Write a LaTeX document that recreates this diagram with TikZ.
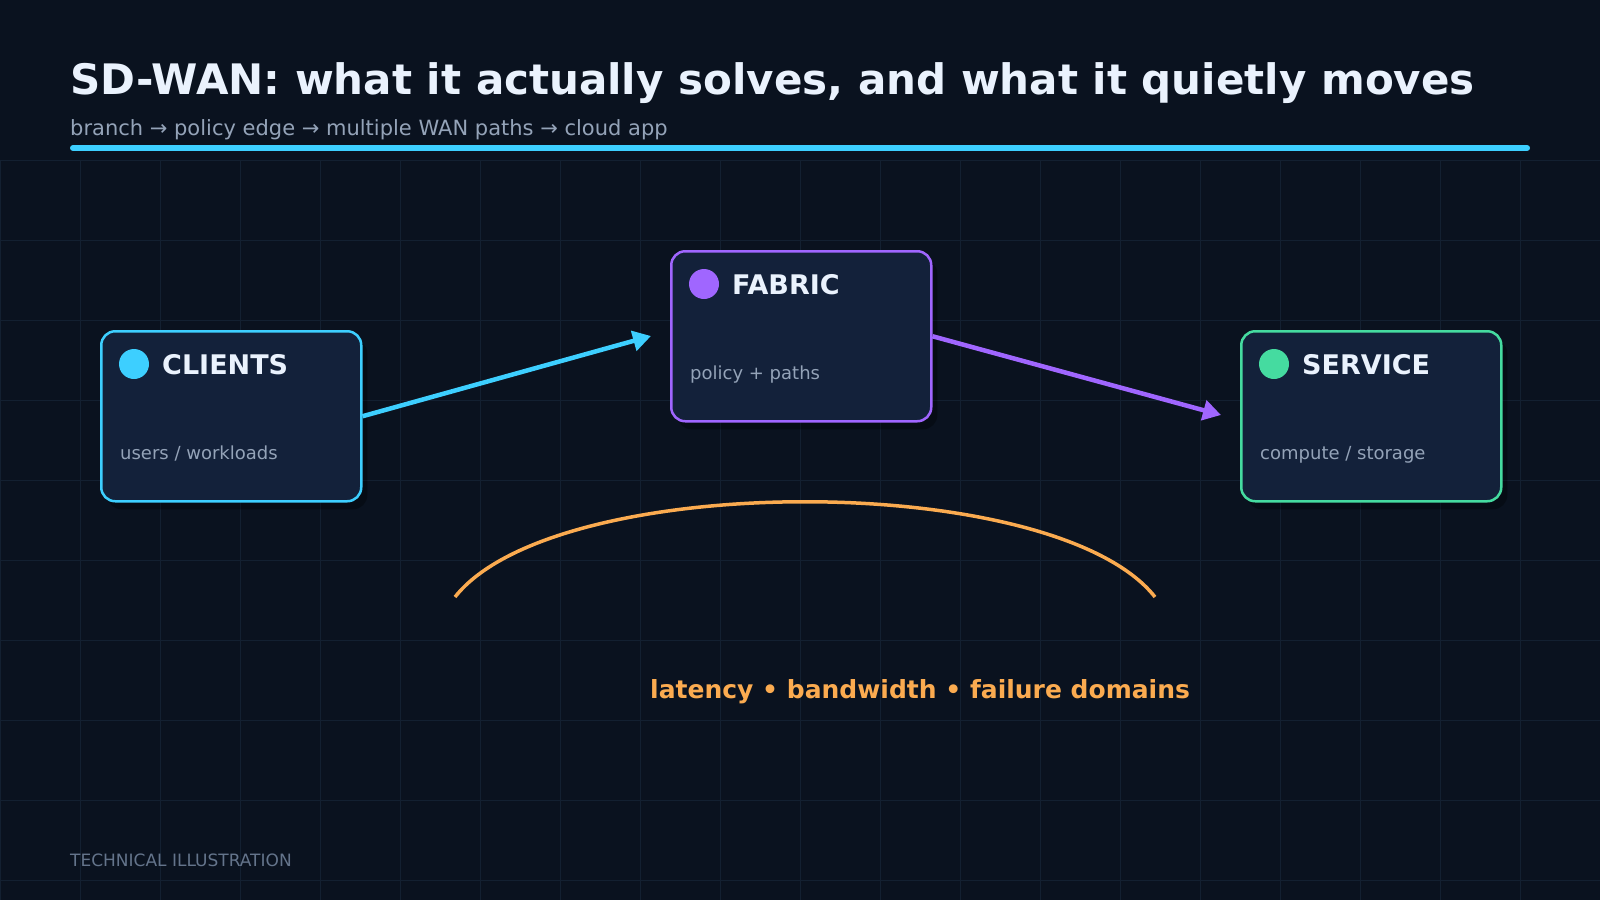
\documentclass[tikz,border=0pt]{standalone}
\usepackage{fontspec}
\setmainfont{DejaVu Sans}
\usetikzlibrary{arrows.meta,calc,shadows}
\definecolor{bg}{HTML}{0A121F}
\definecolor{gridc}{HTML}{132031}
\definecolor{boxfill}{HTML}{13213A}
\definecolor{cyanc}{HTML}{3DCFFF}
\definecolor{purc}{HTML}{A066FF}
\definecolor{grnc}{HTML}{45DBA0}
\definecolor{orgc}{HTML}{FBAB50}
\definecolor{titlec}{HTML}{EAF2FD}
\definecolor{subc}{HTML}{94A3B8}
\definecolor{footc}{HTML}{64748B}
\begin{document}
\begin{tikzpicture}[x=1pt,y=-1pt,
  card/.style={draw=#1, line width=2.5pt, fill=boxfill, rounded corners=14pt,
    minimum width=260pt, minimum height=170pt, inner sep=0pt, anchor=north west,
    drop shadow={fill=black, opacity=0.3, shadow xshift=6pt, shadow yshift=-8pt}},
  dot/.style={circle, fill=#1, minimum size=30pt, inner sep=0pt},
  head/.style={anchor=base west, inner sep=0pt, text=titlec, font=\bfseries\fontsize{27}{30}\selectfont},
  sub/.style={anchor=base west, inner sep=0pt, text=subc, font=\fontsize{18}{22}\selectfont},
  conn/.style={draw=#1, line width=4.5pt, -{Triangle[length=18pt,width=20pt]}},
  gridline/.style={draw=gridc, line width=1pt}]
\useasboundingbox (0,0) rectangle (1600,900);
\fill[bg] (0,0) rectangle (1600,900);
% grid
\foreach \x in {0,80,...,1600} \draw[gridline] (\x,160) -- (\x,900);
\foreach \y in {160,240,...,880} \draw[gridline] (0,\y) -- (1600,\y);
% header
\node[anchor=base west, inner sep=0pt, text=titlec, font=\bfseries\fontsize{42}{50}\selectfont] (title) at (70,94)
  {SD-WAN: what it actually solves, and what it quietly moves};
\node[anchor=base west, inner sep=0pt, text=subc, font=\fontsize{21}{25}\selectfont] (subtitle) at (70,135)
  {branch → policy edge → multiple WAN paths → cloud app};
\coordinate (ruleL) at (73,148);
\coordinate (ruleR) at (1527,148);
\draw[cyanc, line width=6pt, line cap=round] (ruleL) -- (ruleR);
% cards
\node[card=cyanc] (clients) at (100,330) {};
\node[card=purc] (fabric) at (670,250) {};
\node[card=grnc] (service) at (1240,330) {};
\node[dot=cyanc] (clientsdot) at ($(clients.north west)+(34,34)$) {};
\node[dot=purc] (fabricdot) at ($(fabric.north west)+(34,34)$) {};
\node[dot=grnc] (servicedot) at ($(service.north west)+(34,34)$) {};
\node[head] (clientst) at ($(clients.north west)+(62,44)$) {CLIENTS};
\node[head] (fabrict) at ($(fabric.north west)+(62,44)$) {FABRIC};
\node[head] (servicet) at ($(service.north west)+(62,44)$) {SERVICE};
\node[sub] (clientss) at ($(clients.north west)+(20,129)$) {users / workloads};
\node[sub] (fabrics) at ($(fabric.north west)+(20,129)$) {policy + paths};
\node[sub] (services) at ($(service.north west)+(20,129)$) {compute / storage};
% connectors
\coordinate (tipA) at (651,336);
\coordinate (tipB) at (1221,415);
\draw[conn=cyanc] (clients.east) -- (tipA);
\draw[conn=purc] (fabric.east) -- (tipB);
% arc and label
\coordinate (arcL) at (455,597);
\coordinate (arcR) at (1155,597);
\draw[orgc, line width=3.5pt] (arcL) .. controls (555,470) and (1055,470) .. (arcR);
\node[anchor=base west, inner sep=0pt, text=orgc, font=\bfseries\fontsize{25}{30}\selectfont] (tradeoffs) at (650,698)
  {latency • bandwidth • failure domains};
\node[anchor=base west, inner sep=0pt, text=footc, font=\fontsize{17}{20}\selectfont] (footer) at (70,866)
  {TECHNICAL ILLUSTRATION};
\end{tikzpicture}
\end{document}
